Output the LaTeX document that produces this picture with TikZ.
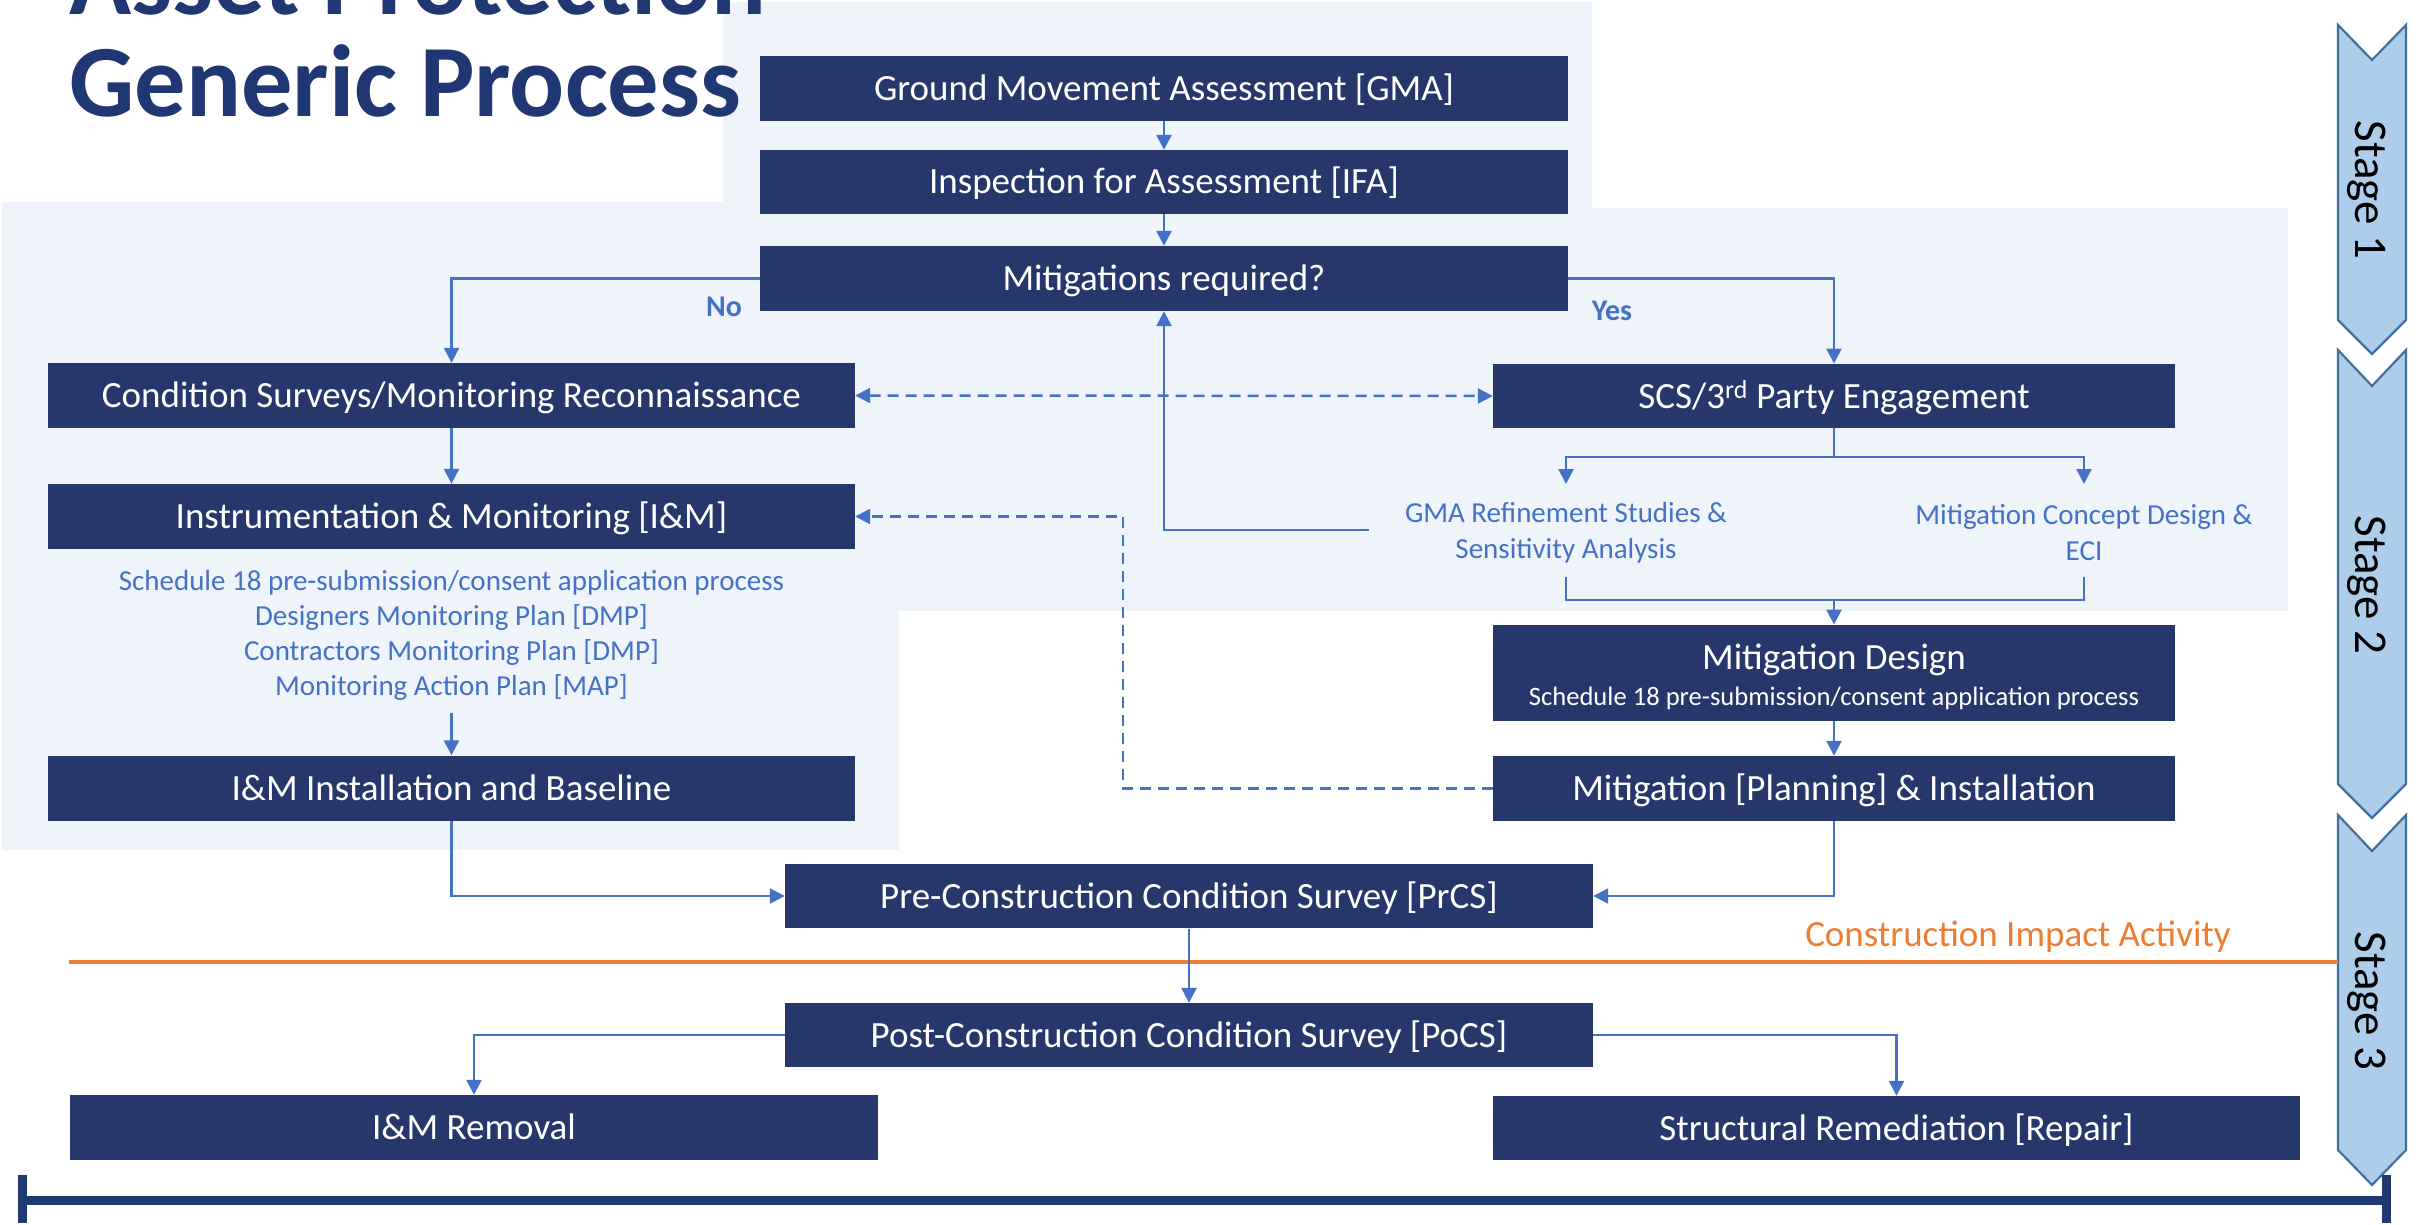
\documentclass[tikz,border=0pt]{standalone}
\usepackage{fontspec}
\setmainfont{Carlito}
\usetikzlibrary{arrows.meta}
\definecolor{boxblue}{HTML}{26386B}
\definecolor{panelcol}{HTML}{EFF3FA}
\definecolor{arrowblue}{HTML}{4472C4}
\definecolor{titleblue}{HTML}{1F3873}
\definecolor{orangecol}{HTML}{ED7D31}
\definecolor{stagefill}{HTML}{AECDEA}
\definecolor{stagedraw}{HTML}{41719C}
\definecolor{barblue}{HTML}{1F3A70}
\begin{document}
\begin{tikzpicture}[x=1pt,y=-1pt,
  box/.style={fill=boxblue, text=white, inner sep=0pt, minimum height=65pt,
    minimum width=808pt, text height=31pt, text depth=7pt, font=\fontsize{37}{44}\selectfont},
  conn/.style={draw=arrowblue, line width=2.5pt, -{Triangle[width=15pt,length=15pt]}},
  plainconn/.style={draw=arrowblue, line width=2.5pt},
  dashconn/.style={draw=arrowblue, line width=2.5pt, dash pattern=on 11pt off 7pt},
  note/.style={text=arrowblue, font=\fontsize{29}{35}\selectfont, align=center, inner sep=0pt},
  yesno/.style={text=arrowblue, font=\bfseries\fontsize{30}{36}\selectfont, inner sep=0pt},
  stagebox/.style={fill=stagefill, draw=stagedraw, line width=2.2pt, line join=miter},
  stagetext/.style={rotate=-90, font=\fontsize{47}{56}\selectfont, inner sep=0pt},
  titletext/.style={anchor=base west, inner sep=0pt, text=titleblue, font=\bfseries\fontsize{102.5}{110}\selectfont}
]
\useasboundingbox (0,0) rectangle (2420,1225);
\clip (0,0) rectangle (2420,1225);
\fill[white] (0,0) rectangle (2420,1225);

% background panels
\fill[panelcol] (723,2) rectangle (1592,208);
\fill[panelcol] (2,202) rectangle (899,850);
\fill[panelcol] (2,208) rectangle (2288,611);

% title
\node[titletext] (t1) at (69,15) {Asset Protection};
\node[titletext] (t2) at (69,117) {Generic Process};

% stage chevrons
\filldraw[stagebox] (2338,25) -- (2372,60) -- (2406,25) -- (2406,320) -- (2372,354) -- (2338,320) -- cycle;
\filldraw[stagebox] (2338,350) -- (2372,386) -- (2406,350) -- (2406,784) -- (2372,818) -- (2338,784) -- cycle;
\filldraw[stagebox] (2338,815) -- (2372,851) -- (2406,815) -- (2406,1150) -- (2372,1185) -- (2338,1150) -- cycle;
\node[stagetext] (s1) at (2367,190) {Stage 1};
\node[stagetext] (s2) at (2367,585) {Stage 2};
\node[stagetext] (s3) at (2367,1001) {Stage 3};

% construction line
\coordinate (ol) at (69,962);
\coordinate (or) at (2338,962);
\draw[orangecol, line width=4.5pt] (ol) -- (or);
\node[text=orangecol, font=\fontsize{37}{44}\selectfont, inner sep=0pt] (cia) at (2018,937) {Construction Impact Activity};

% timeline
\coordinate (tl) at (22.5,1200);
\coordinate (tr) at (2386,1200);
\draw[barblue, line width=9pt] (tl) -- (tr);
\draw[barblue, line width=9pt] ([yshift=-23pt]tl) -- ([yshift=25pt]tl);
\draw[barblue, line width=9pt] ([yshift=-23pt]tr) -- ([yshift=25pt]tr);

% boxes
\node[box] (gma) at (1164,88.5) {Ground Movement Assessment [GMA]};
\node[box, minimum height=64pt] (ifa) at (1164,182) {Inspection for Assessment [IFA]};
\node[box] (mit) at (1164,278.5) {Mitigations required?};
\node[box, minimum width=807pt] (cs) at (451.5,395.5) {Condition Surveys/Monitoring Reconnaissance};
\node[box, minimum width=807pt] (im) at (451.5,516.5) {Instrumentation \& Monitoring [I\&M]};
\node[box, minimum width=807pt] (iminst) at (451.5,788) {I\&M Installation and Baseline};
\node[box, minimum width=682pt, minimum height=64.5pt] (scs) at (1834,396) {SCS/3\textsuperscript{rd} Party Engagement};
\node[box, minimum width=682pt, minimum height=96.5pt] (md) at (1834,673) {};
\node[text=white, inner sep=0pt, font=\fontsize{37}{44}\selectfont] (mdtitle) at (1834,660) {Mitigation Design};
\node[text=white, inner sep=0pt, font=\fontsize{26.6}{32}\selectfont] (mdsub) at (1834,698) {Schedule 18 pre-submission/consent application process};
\node[box, minimum width=682pt] (mpi) at (1834,788.5) {Mitigation [Planning] \& Installation};
\node[box, minimum height=64.6pt] (prcs) at (1189,896) {Pre-Construction Condition Survey [PrCS]};
\node[box, minimum height=64pt] (pocs) at (1189,1035) {Post-Construction Condition Survey [PoCS]};
\node[box] (imrem) at (474,1127.5) {I\&M Removal};
\node[box, minimum width=807pt, minimum height=64pt] (sr) at (1896.5,1128) {Structural Remediation [Repair]};

% notes
\node[note] (sched) at (451.5,635) {Schedule 18 pre-submission/consent application process\\Designers Monitoring Plan [DMP]\\Contractors Monitoring Plan [DMP]\\Monitoring Action Plan [MAP]};
\node[note, font=\fontsize{29}{36}\selectfont] (gmaref) at (1566,533) {GMA Refinement Studies \&\\Sensitivity Analysis};
\node[note, font=\fontsize{29}{36}\selectfont] (mcd) at (2084,533) {Mitigation Concept Design \&\\ECI};
\node[yesno] (nolab) at (724,307) {No};
\node[yesno] (yeslab) at (1612,311) {Yes};

% connectors
\draw[conn] (gma) -- (ifa);
\draw[conn] (ifa) -- (mit);
\draw[conn] (mit.west) -| (cs.north);
\draw[conn] (mit.east) -| (scs.north);
\draw[conn] (cs) -- (im);
\draw[dashconn, {Triangle[width=15pt,length=15pt]}-{Triangle[width=15pt,length=15pt]}] (cs.east) -- (scs.west);

\coordinate (fb) at (1369,530);
\draw[conn] (fb) -| (mit.south);

\coordinate (br) at (1834,457);
\coordinate (gmatop) at (1566,484);
\coordinate (mcdtop) at (2084,484);
\draw[plainconn] (scs.south) -- (br);
\draw[conn] (br) -| (gmatop);
\draw[conn] (br) -| (mcdtop);

\coordinate (gmabot) at (1566,577);
\coordinate (mcdbot) at (2084,577);
\coordinate (mj) at (1834,600);
\draw[plainconn] (gmabot) |- (mj) -| (mcdbot);
\draw[conn] (mj) -- (md.north);
\draw[conn] (md) -- (mpi);

\coordinate (dk) at (1123,788.5);
\draw[dashconn, -{Triangle[width=15pt,length=15pt]}] (mpi.west) -- (dk) |- (im.east);

\coordinate (schedbot) at (451.5,713);
\draw[conn] (schedbot) -- (iminst.north);
\draw[conn] (iminst.south) |- (prcs.west);
\draw[conn] (mpi.south) |- (prcs.east);
\draw[conn] (prcs) -- (pocs);
\draw[conn] (pocs.west) -| (imrem.north);
\draw[conn] (pocs.east) -| (sr.north);
\end{tikzpicture}
\end{document}
